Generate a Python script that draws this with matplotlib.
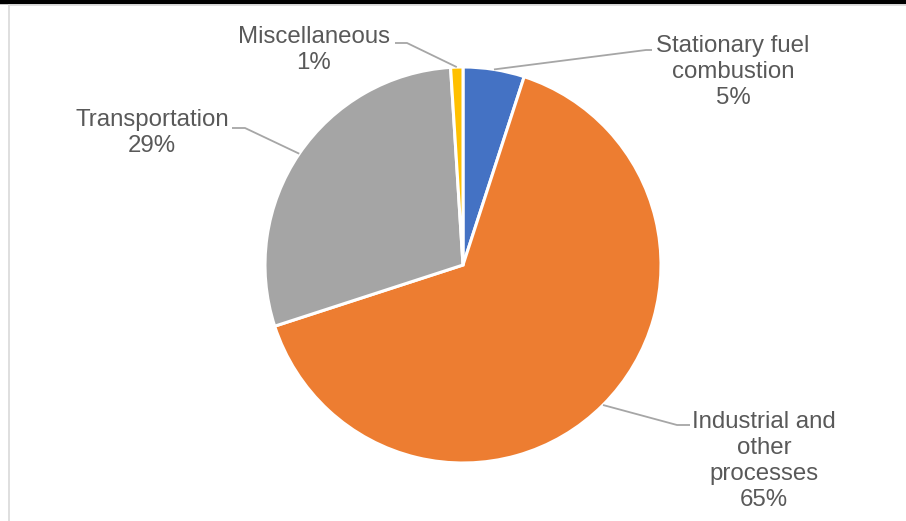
import numpy as np
import matplotlib
matplotlib.use('Agg')
import matplotlib.pyplot as plt

# Emission shares by source category
categories = ['Stationary fuel\ncombustion', 'Industrial and\nother\nprocesses',
              'Transportation', 'Miscellaneous']
shares = [5, 65, 29, 1]
colors = ['#4472C4', '#ED7D31', '#A5A5A5', '#FFC000']

W, H = 906, 521
fig = plt.figure(figsize=(W / 100, H / 100), dpi=100)
ax = fig.add_axes([0, 0, 1, 1])
ax.set_xlim(0, W)
ax.set_ylim(0, H)
ax.set_aspect('equal')
ax.axis('off')

cx, cy, r = 463, 256, 198
wedges, _ = ax.pie(shares, colors=colors, startangle=90, counterclock=False,
                   center=(cx, cy), radius=r, frame=True,
                   wedgeprops=dict(edgecolor='white', linewidth=2.2))
ax.set_xlim(0, W)
ax.set_ylim(0, H)
ax.axis('off')

# label text centre and elbow of each leader line (pixels, y up)
label_pos = [(733, 449), (764, 60), (152, 388), (314, 471)]
elbows = [[(646, 471), (652, 471)],
          [(677, 96), (690, 96)],
          [(245, 393), (232, 393)],
          [(407, 478), (395, 478)]]

txt_color = '#595959'
for w, name, v, (tx, ty), elb in zip(wedges, categories, shares, label_pos, elbows):
    mid = np.deg2rad((w.theta1 + w.theta2) / 2)
    ax_x = cx + r * np.cos(mid)
    ax_y = cy + r * np.sin(mid)
    xs = [ax_x] + [p[0] for p in elb]
    ys = [ax_y] + [p[1] for p in elb]
    ax.plot(xs, ys, color='#A6A6A6', lw=1.3, solid_capstyle='butt')
    ax.text(tx, ty, f'{name}\n{v}%', ha='center', va='center',
            fontsize=17.3, color=txt_color, family='Liberation Sans',
            linespacing=1.25)

# outer frame of the chart area
ax.plot([0, W], [H - 1.5, H - 1.5], color='black', lw=3.2, solid_capstyle='butt')
ax.plot([8.5, W], [H - 4.5, H - 4.5], color='#D9D9D9', lw=1.2)
ax.plot([8.5, 8.5], [0, H - 4.5], color='#D9D9D9', lw=1.2)

fig.savefig('out.png', dpi=100)
